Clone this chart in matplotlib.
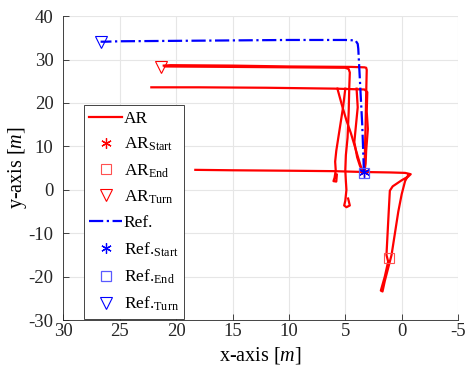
import numpy as np
import matplotlib
matplotlib.use("Agg")
import matplotlib.pyplot as plt

plt.rcParams['font.family'] = ['Liberation Serif', 'DejaVu Serif']
plt.rcParams['mathtext.fontset'] = 'custom'
plt.rcParams['mathtext.rm'] = 'Liberation Serif'
plt.rcParams['mathtext.it'] = 'Liberation Serif:italic'
plt.rcParams['axes.unicode_minus'] = False

# ---- data ----
# Reference path
ref_x = [3.35, 3.4, 3.5, 3.6, 3.7, 3.8, 3.85, 3.9, 4.1, 5.0, 10.0, 15.0, 20.0, 25.0, 26.3, 26.7]
ref_y = [4.0, 8.0, 15.0, 20.0, 25.0, 30.0, 32.5, 33.6, 34.4, 34.5, 34.5, 34.4, 34.3, 34.2, 34.1, 34.1]
ref_start = (3.35, 4.0)
ref_end = (3.35, 3.9)
ref_turn = (26.7, 34.1)

# AR paths (several passes)
ar1_x = [3.3, 3.25, 3.2, 3.15, 3.1, 3.15, 3.3, 4.5, 10.0, 15.0, 20.5, 21.1]
ar1_y = [4.0, 10.0, 15.0, 22.0, 27.6, 28.1, 28.2, 28.3, 28.4, 28.6, 28.7, 28.6]
ar2_x = [21.0, 15.0, 10.0, 5.0, 4.7, 4.6, 4.65, 4.7, 4.8, 4.95, 5.0, 4.95, 4.9, 5.0, 5.1, 4.9, 4.6, 4.75]
ar2_y = [28.4, 28.3, 28.2, 28.1, 27.8, 27.0, 23.5, 18.0, 12.0, 8.0, 4.5, 2.0, 0.0, -2.5, -3.6, -4.0, -3.6, -2.0]
ar3_x = [22.2, 18.0, 12.0, 6.0, 3.3, 3.05, 3.1, 3.0, 3.15, 3.2, 3.3]
ar3_y = [23.6, 23.6, 23.5, 23.3, 23.1, 22.5, 18.0, 14.0, 9.0, 6.0, 4.3]
ar4_x = [5.7, 5.3, 4.9, 4.5, 4.1, 3.7, 3.5]
ar4_y = [23.3, 19.5, 16.0, 13.0, 9.5, 6.0, 4.4]
ar5_x = [5.0, 5.2, 5.5, 5.8, 5.9, 5.85, 5.95, 6.05, 5.8, 5.75]
ar5_y = [23.3, 19.0, 14.0, 9.0, 6.5, 4.5, 2.8, 2.0, 1.9, 3.5]
ar6_x = [4.0, 3.9, 4.05, 4.2, 3.95, 3.7, 3.5]
ar6_y = [23.3, 19.0, 15.0, 11.0, 7.5, 5.5, 4.5]
ar7_x = [18.3, 15.0, 10.0, 6.0, 3.3, 1.0, -0.3, -0.8, -0.6, 0.0, 0.8, 1.05, 1.15, 1.25, 1.35, 1.2, 1.5, 1.85, 1.7, 1.5, 1.2, 0.9, 0.6, 0.3, 0.0, -0.3, -0.6]
ar7_y = [4.6, 4.5, 4.4, 4.3, 4.1, 4.0, 3.9, 3.6, 3.1, 2.2, 0.8, -0.2, -5.0, -10.0, -15.0, -16.5, -20.0, -23.2, -23.4, -21.0, -18.0, -15.0, -10.0, -5.0, -1.0, 2.0, 3.5]
ar_start = (3.3, 4.0)
ar_end = (1.1, -15.8)
ar_turn = (21.3, 28.2)

x_ticks = [30, 25, 20, 15, 10, 5, 0, -5]
y_ticks = [40, 30, 20, 10, 0, -10, -20, -30]

# ---- plot ----
fig = plt.figure(figsize=(4.66, 3.74), dpi=100)
ax = fig.add_axes([0.136, 0.144, 0.847, 0.813])

red = '#FF0000'
blue = '#0000FF'
lw = 1.6

ax.plot(ar1_x, ar1_y, color=red, lw=lw, label='AR', zorder=3)
for xs, ys in [(ar2_x, ar2_y), (ar3_x, ar3_y), (ar4_x, ar4_y), (ar5_x, ar5_y),
               (ar6_x, ar6_y), (ar7_x, ar7_y)]:
    ax.plot(xs, ys, color=red, lw=lw, zorder=3)

ms = 7.5
ax.plot([ar_start[0]], [ar_start[1]], ls='none', marker=(6, 2, 0), color=red,
        ms=ms, mew=0.9, label=r'AR$_{\mathrm{Start}}$', zorder=4)
ax.plot([ar_end[0]], [ar_end[1]], ls='none', marker='s', mfc='none', mec='#ff5050',
        ms=ms, mew=0.8, label=r'AR$_{\mathrm{End}}$', zorder=4)
ax.plot([ar_turn[0]], [ar_turn[1]], ls='none', marker='v', mfc='none', mec=red,
        ms=ms + 1.5, mew=0.8, label=r'AR$_{\mathrm{Turn}}$', zorder=4)

ax.plot(ref_x, ref_y, color=blue, lw=lw, ls='-.', label='Ref.', zorder=5)
ax.plot([ref_start[0]], [ref_start[1]], ls='none', marker=(6, 2, 0), color=blue,
        ms=ms, mew=0.9, label=r'Ref.$_{\mathrm{Start}}$', zorder=6)
ax.plot([ref_end[0]], [ref_end[1]], ls='none', marker='s', mfc='none', mec='#5a5aff',
        ms=ms, mew=0.9, label=r'Ref.$_{\mathrm{End}}$', zorder=6)
ax.plot([ref_turn[0]], [ref_turn[1]], ls='none', marker='v', mfc='none', mec=blue,
        ms=ms + 1.5, mew=0.8, label=r'Ref.$_{\mathrm{Turn}}$', zorder=6)

ax.set_xlim(30, -5)
ax.set_ylim(-30, 40)
ax.set_xticks(x_ticks)
ax.set_yticks(y_ticks)
ax.tick_params(direction='in', labelsize=13.5, colors='#262626', length=4, width=0.6)
ax.tick_params(axis='x', pad=2)
ax.tick_params(axis='y', pad=7)
ax.spines['top'].set_visible(False)
ax.spines['right'].set_visible(False)
for s in ['left', 'bottom']:
    ax.spines[s].set_color('#262626')
    ax.spines[s].set_linewidth(0.6)
ax.grid(True, color='#e6e6e6', lw=0.8)
ax.set_axisbelow(True)

ax.set_xlabel(r'x-axis [$\mathit{m}$]', fontsize=14.5, labelpad=4)
ax.set_ylabel(r'y-axis [$\mathit{m}$]', fontsize=14.5, labelpad=0)

leg = ax.legend(loc='lower left', bbox_to_anchor=(0.052, 0.005), fontsize=12.5,
                frameon=True, fancybox=False, edgecolor='#262626', framealpha=1,
                handlelength=1.9, handletextpad=0.1, borderpad=0.3,
                labelspacing=0.52, borderaxespad=0)
leg.get_frame().set_linewidth(0.6)

fig.savefig('out.png', dpi=100)
